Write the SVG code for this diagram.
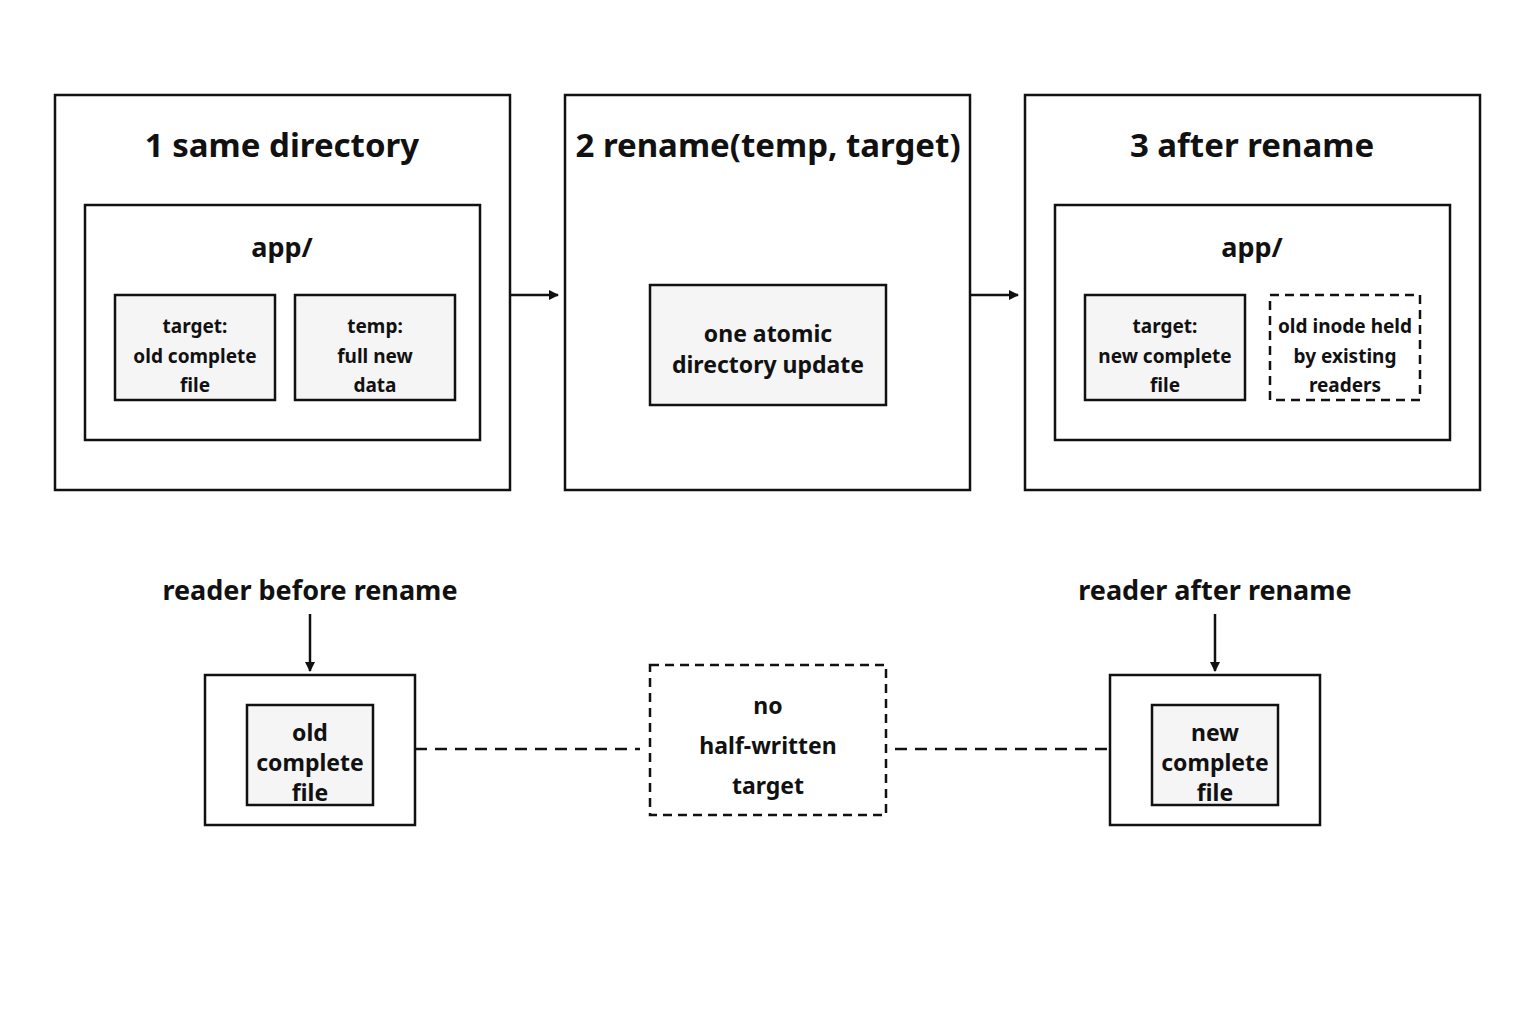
<svg xmlns="http://www.w3.org/2000/svg" width="1536" height="1024" viewBox="0 0 1536 1024">
<style>
text{font-family:"Noto Sans","Open Sans",sans-serif;font-weight:bold;fill:#111;text-anchor:middle}
.o{fill:#fff;stroke:#111;stroke-width:2.5}
.f{fill:#f5f5f5;stroke:#111;stroke-width:2.5}
.d{fill:#fff;stroke:#111;stroke-width:2.5;stroke-dasharray:9 6}
.t{font-size:33px}.m{font-size:27px}.s{font-size:19px}.b{font-size:23px}
.c{stroke:#111;stroke-width:2.5;fill:none}
</style>
<defs><marker id="a" markerWidth="10" markerHeight="10" refX="9" refY="5" orient="auto" markerUnits="userSpaceOnUse" viewBox="0 0 10 10"><path d="M0,0L10,5L0,10z" fill="#111"/></marker></defs>
<rect width="1536" height="1024" fill="#fff"/>
<g id="step1"><rect class="o" x="55" y="95" width="455" height="395"/><text class="t" x="282" y="157">1 same directory</text>
<rect class="o" x="85" y="205" width="395" height="235"/><text class="m" x="282" y="257">app/</text>
<rect class="f" x="115" y="295" width="160" height="105"/><text class="s" x="195" y="333">target:</text><text class="s" x="195" y="363">old complete</text><text class="s" x="195" y="392">file</text>
<rect class="f" x="295" y="295" width="160" height="105"/><text class="s" x="375" y="333">temp:</text><text class="s" x="375" y="363">full new</text><text class="s" x="375" y="392">data</text></g>
<g id="step2"><rect class="o" x="565" y="95" width="405" height="395"/><text class="t" x="768" y="157">2 rename(temp, target)</text>
<rect class="f" x="650" y="285" width="236" height="120"/><text class="b" x="768" y="342">one atomic</text><text class="b" x="768" y="373">directory update</text></g>
<g id="step3"><rect class="o" x="1025" y="95" width="455" height="395"/><text class="t" x="1252" y="157">3 after rename</text>
<rect class="o" x="1055" y="205" width="395" height="235"/><text class="m" x="1252" y="257">app/</text>
<rect class="f" x="1085" y="295" width="160" height="105"/><text class="s" x="1165" y="333">target:</text><text class="s" x="1165" y="363">new complete</text><text class="s" x="1165" y="392">file</text>
<rect class="d" x="1270" y="295" width="150" height="105"/><text class="s" x="1345" y="333">old inode held</text><text class="s" x="1345" y="363">by existing</text><text class="s" x="1345" y="392">readers</text></g>
<g id="rbefore"><text class="m" x="310" y="600">reader before rename</text>
<rect class="o" x="205" y="675" width="210" height="150"/><rect class="f" x="247" y="705" width="126" height="100"/>
<text class="b" x="310" y="741">old</text><text class="b" x="310" y="771">complete</text><text class="b" x="310" y="801">file</text></g>
<g id="nohalf"><rect class="d" x="650" y="665" width="236" height="150"/><text class="b" x="768" y="714">no</text><text class="b" x="768" y="754">half-written</text><text class="b" x="768" y="794">target</text></g>
<g id="rafter"><text class="m" x="1215" y="600">reader after rename</text>
<rect class="o" x="1110" y="675" width="210" height="150"/><rect class="f" x="1152" y="705" width="126" height="100"/>
<text class="b" x="1215" y="741">new</text><text class="b" x="1215" y="771">complete</text><text class="b" x="1215" y="801">file</text></g>
<g id="connectors">
<line class="c" x1="510" y1="295" x2="558" y2="295" marker-end="url(#a)"/>
<line class="c" x1="970" y1="295" x2="1018" y2="295" marker-end="url(#a)"/>
<line class="c" x1="310" y1="614" x2="310" y2="671" marker-end="url(#a)"/>
<line class="c" x1="1215" y1="614" x2="1215" y2="671" marker-end="url(#a)"/>
<line class="c" x1="415" y1="749" x2="640" y2="749" stroke-dasharray="12 8"/>
<line class="c" x1="895" y1="749" x2="1110" y2="749" stroke-dasharray="12 8"/>
</g>
</svg>
